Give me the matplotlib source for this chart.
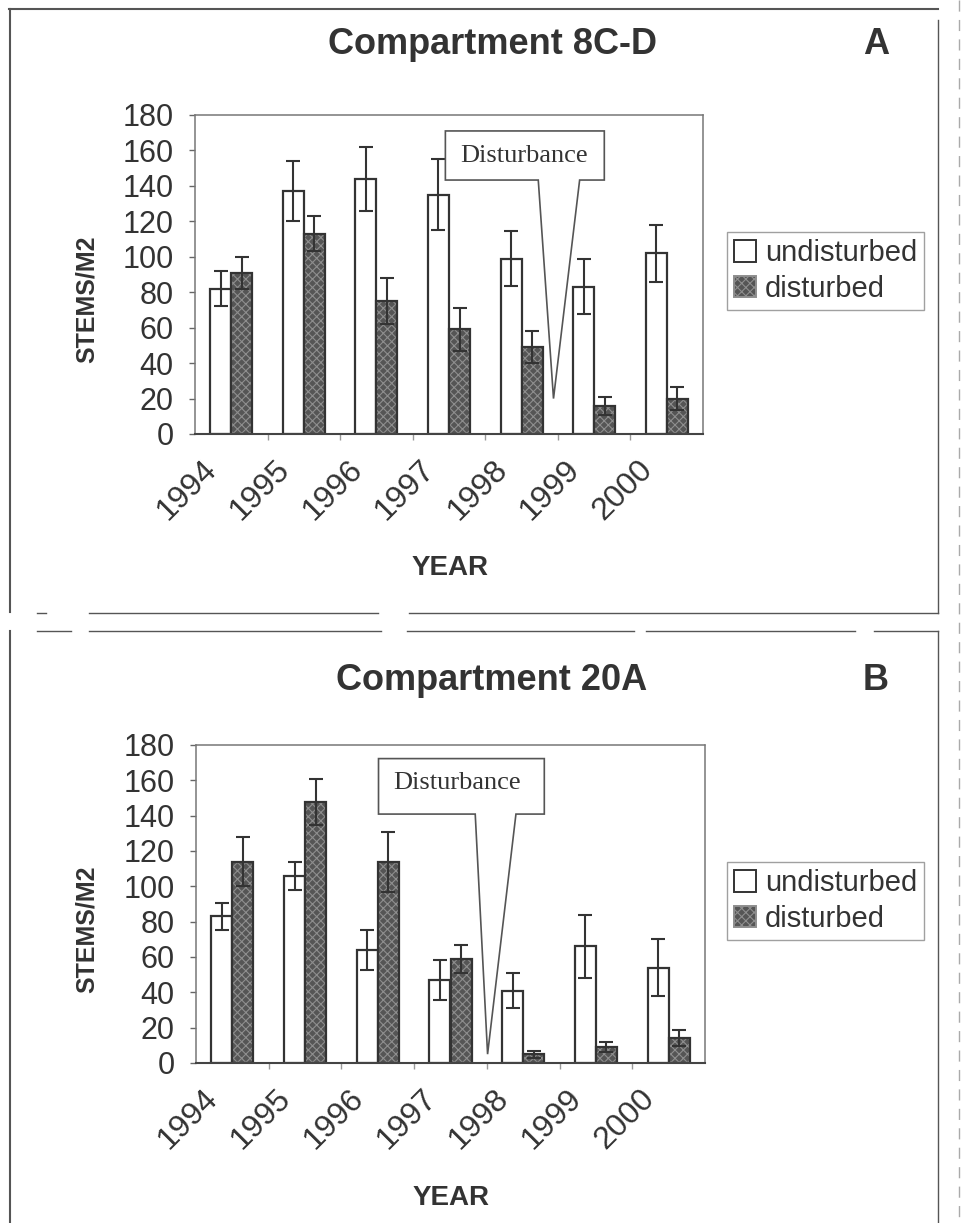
import matplotlib
matplotlib.use("Agg")
import matplotlib.pyplot as plt
import numpy as np
from matplotlib.patches import Polygon, Patch
from matplotlib.lines import Line2D
from matplotlib.transforms import ScaledTranslation

plt.rcParams['font.family'] = ['Liberation Sans', 'DejaVu Sans']
plt.rcParams['hatch.linewidth'] = 0.8

# data
years = ['1994', '1995', '1996', '1997', '1998', '1999', '2000']

# Compartment 8C-D
a_undist = [82, 137, 144, 135, 99, 83, 102]
a_undist_err = [10, 17, 18, 20, 15.5, 15.5, 16]
a_dist = [91, 113, 75, 59, 49, 16, 20]
a_dist_err = [9, 10, 13, 12, 9, 5, 6.5]

# Compartment 20A
b_undist = [83, 106, 64, 47, 41, 66, 54]
b_undist_err = [7.5, 8, 11.5, 11.5, 10, 18, 16]
b_dist = [114, 148, 114, 59, 5, 9, 14]
b_dist_err = [14, 13, 17, 8, 2, 3, 4.5]

TXT = '#333333'
W, H = 965, 1223

fig = plt.figure(figsize=(W / 100, H / 100), dpi=100)


def px_ax(l, t, r, b):
    return fig.add_axes([l / W, 1 - b / H, (r - l) / W, (b - t) / H])


def draw_panel(ax, und, und_err, dis, dis_err, box, ptr, tip, txt_xy):
    x = np.arange(len(years))
    w = 0.29
    ax.bar(x - w / 2, und, w, color='white', edgecolor='#333333', linewidth=1.6, zorder=2)
    # textured grey bars: hatch first, outline on top
    ax.bar(x + w / 2, dis, w, color='#555555', edgecolor='#8e8e8e', linewidth=0,
           hatch='xxxx', zorder=2)
    ax.bar(x + w / 2, dis, w, fill=False, edgecolor='#333333', linewidth=1.6, zorder=2)
    ax.errorbar(x - w / 2, und, yerr=und_err, fmt='none', ecolor='#333333',
                elinewidth=1.5, capsize=5, capthick=1.5, zorder=3)
    ax.errorbar(x + w / 2, dis, yerr=dis_err, fmt='none', ecolor='#333333',
                elinewidth=1.5, capsize=5, capthick=1.5, zorder=3)

    ax.set_xlim(-0.5, len(years) - 0.5)
    ax.set_ylim(0, 180)
    ax.set_yticks(range(0, 181, 20))
    ax.tick_params(axis='y', direction='out', length=4.5, width=1, color='#666666',
                   labelsize=22, labelcolor=TXT, pad=11)
    ax.set_xticks(x)
    ax.set_xticklabels(years, rotation=45, ha='right', va='top')
    ax.tick_params(axis='x', which='major', length=0, labelsize=23, labelcolor=TXT, pad=15)
    ax.set_xticks(np.arange(0.5, len(years) - 0.5, 1), minor=True)
    ax.tick_params(axis='x', which='minor', direction='out', length=4, width=1, color='#999999')
    for lab in ax.get_xticklabels():
        lab.set_transform(lab.get_transform() + ScaledTranslation(-0.08, 0, fig.dpi_scale_trans))

    for s in ['left', 'top', 'right']:
        ax.spines[s].set_linestyle((0, (1, 1)))
        ax.spines[s].set_color('#777777')
        ax.spines[s].set_linewidth(1.1)
    ax.spines['bottom'].set_color('#444444')
    ax.spines['bottom'].set_linewidth(1.5)

    # callout
    x0, x1, y0, y1 = box
    pts = [(x0, y1), (x1, y1), (x1, y0), (ptr[1], y0), tip, (ptr[0], y0), (x0, y0)]
    ax.add_patch(Polygon(pts, closed=True, facecolor='white', edgecolor='#555555',
                         linewidth=1.2, zorder=4))
    ax.text(txt_xy[0], txt_xy[1], 'Disturbance', family=['Liberation Serif', 'DejaVu Serif'],
            fontsize=19, color=TXT, ha='center', va='center', zorder=5)


def draw_legend(ax, top_px):
    handles = [Patch(facecolor='white', edgecolor='#333333', linewidth=1.4),
               Patch(facecolor='#555555', edgecolor='#8e8e8e', hatch='xxxx', linewidth=1.4)]
    leg = ax.legend(handles, ['undisturbed', 'disturbed'], loc='upper left',
                    bbox_to_anchor=(727 / W, 1 - top_px / H), bbox_transform=fig.transFigure,
                    fontsize=21, frameon=True, fancybox=False, edgecolor='#888888',
                    handlelength=0.75, handleheight=0.75, handletextpad=0.3,
                    borderpad=0.25, labelspacing=0.25, borderaxespad=0)
    for t in leg.get_texts():
        t.set_color(TXT)
    leg.get_frame().set_linewidth(1)


axA = px_ax(195, 115, 703, 434)
draw_panel(axA, a_undist, a_undist_err, a_dist, a_dist_err,
           box=(2.95, 5.14, 143.3, 171), ptr=(4.23, 4.80), tip=(4.44, 20), txt_xy=(4.03, 157))
draw_legend(axA, 232)

axB = px_ax(196, 745, 705, 1063)
draw_panel(axB, b_undist, b_undist_err, b_dist, b_dist_err,
           box=(2.01, 4.29, 140.9, 172.3), ptr=(3.34, 3.90), tip=(3.51, 5), txt_xy=(3.09, 158.5))
draw_legend(axB, 862)

# titles and axis titles placed in figure pixels
def ftext(xp, yp, s, **kw):
    fig.text(xp / W, 1 - yp / H, s, ha='center', va='center', color=TXT, **kw)

ftext(492, 45, 'Compartment 8C-D', fontsize=26, fontweight='bold')
ftext(876, 45, 'A', fontsize=26, fontweight='bold')
ftext(87, 299, 'STEMS/M2', fontsize=18, fontweight='bold', rotation=90)
ftext(450, 568, 'YEAR', fontsize=20, fontweight='bold')

ftext(492, 680, 'Compartment 20A', fontsize=26, fontweight='bold')
ftext(876, 680, 'B', fontsize=26, fontweight='bold')
ftext(87, 929, 'STEMS/M2', fontsize=18, fontweight='bold', rotation=90)
ftext(451, 1198, 'YEAR', fontsize=20, fontweight='bold')


# panel frames (scanned page borders)
def fline(xs, ys, **kw):
    kw.setdefault('color', '#555555')
    kw.setdefault('linewidth', 1)
    fig.add_artist(Line2D([v / W for v in xs], [1 - v / H for v in ys],
                          transform=fig.transFigure, **kw))

fline([9, 938], [9, 9], linewidth=1.5)
fline([10, 10], [9, 612], linewidth=1.5)
fline([938, 938], [20, 613])
for a, b in [(37, 46), (89, 378), (409, 938)]:
    fline([a, b], [613, 613])
for a, b in [(37, 71), (89, 381), (407, 634), (646, 855), (874, 938)]:
    fline([a, b], [631, 631])
fline([10, 10], [631, 1223], linewidth=1.5)
fline([938, 938], [631, 1223])
fline([959, 959], [0, 1223], color='#aaaaaa', linestyle=(0, (8, 6)))

fig.savefig('out.png', dpi=100)
